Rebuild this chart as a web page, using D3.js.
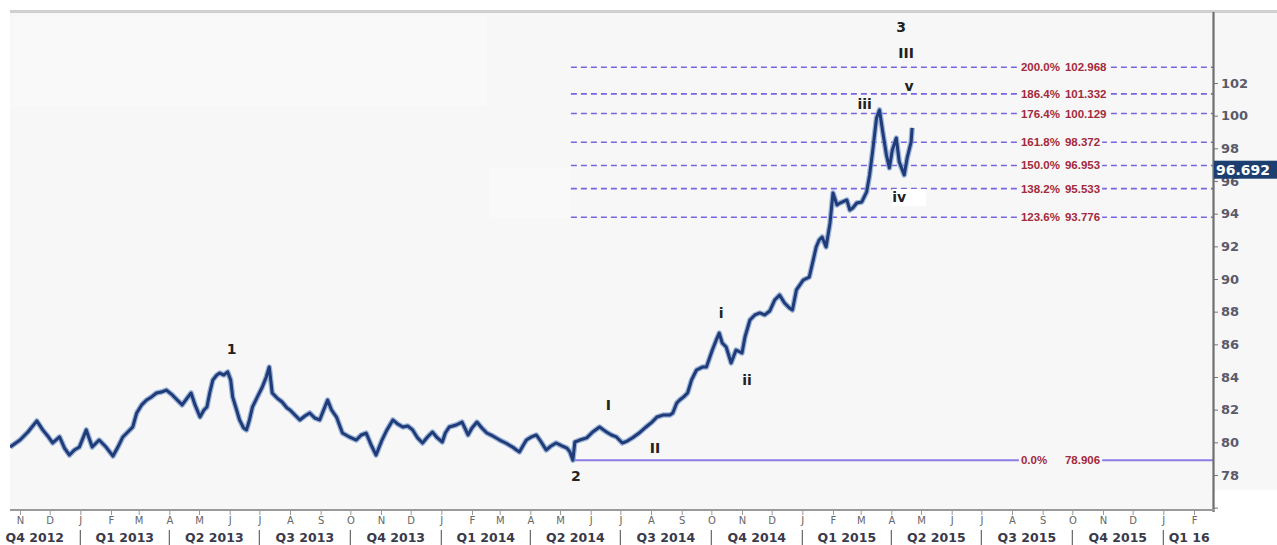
<!DOCTYPE html>
<html><head><meta charset="utf-8">
<script src="https://cdn.jsdelivr.net/npm/d3@7/dist/d3.min.js"></script>
<style>
html,body{margin:0;padding:0;background:#fff;}
svg{display:block;}
</style></head>
<body>
<svg id="chart" width="1277" height="545"></svg>
<script>
// ---------- DATA ----------
const priceDates = ["2012-10-22","2012-11-01","2012-11-09","2012-11-18","2012-11-24","2012-11-29","2012-12-04","2012-12-11","2012-12-16","2012-12-21","2012-12-26","2012-12-31",
"2013-01-07","2013-01-13","2013-01-20","2013-01-27","2013-02-03","2013-02-08","2013-02-13","2013-02-18","2013-02-23","2013-02-27","2013-03-04","2013-03-09","2013-03-14","2013-03-19","2013-03-24","2013-03-29",
"2013-04-04","2013-04-09","2013-04-14","2013-04-19","2013-04-23","2013-04-27","2013-05-02","2013-05-06","2013-05-09","2013-05-12","2013-05-15","2013-05-19","2013-05-22","2013-05-26","2013-05-30",
"2013-06-02","2013-06-04","2013-06-08","2013-06-11","2013-06-15","2013-06-18","2013-06-21","2013-06-24","2013-06-29","2013-07-04","2013-07-08","2013-07-11","2013-07-14","2013-07-19","2013-07-24","2013-07-29",
"2013-08-01","2013-08-06","2013-08-11","2013-08-16","2013-08-21","2013-08-26","2013-08-31","2013-09-04","2013-09-08","2013-09-12","2013-09-17","2013-09-20","2013-09-23","2013-09-30",
"2013-10-07","2013-10-12","2013-10-17","2013-10-22","2013-10-27","2013-11-02","2013-11-07","2013-11-13","2013-11-18","2013-11-23","2013-11-28","2013-12-03","2013-12-08","2013-12-13","2013-12-18","2013-12-23","2013-12-28",
"2014-01-02","2014-01-05","2014-01-09","2014-01-16","2014-01-22","2014-01-28","2014-02-01","2014-02-06","2014-02-11","2014-02-16","2014-02-22","2014-03-01","2014-03-07","2014-03-14","2014-03-18","2014-03-21","2014-03-25","2014-03-28",
"2014-04-02","2014-04-07","2014-04-12","2014-04-17","2014-04-22","2014-04-27","2014-05-03","2014-05-08","2014-05-11","2014-05-14","2014-05-16","2014-05-21","2014-05-28",
"2014-06-03","2014-06-10","2014-06-14","2014-06-17","2014-06-22","2014-06-27","2014-07-03","2014-07-08","2014-07-13","2014-07-20","2014-07-27","2014-08-02","2014-08-07","2014-08-13","2014-08-20","2014-08-23","2014-08-27","2014-08-30",
"2014-09-03","2014-09-07","2014-09-11","2014-09-16","2014-09-22","2014-09-26","2014-10-02","2014-10-06","2014-10-09","2014-10-12","2014-10-16","2014-10-21","2014-10-26",
"2014-11-01","2014-11-04","2014-11-09","2014-11-14","2014-11-19","2014-11-24","2014-11-29","2014-12-04","2014-12-09","2014-12-14","2014-12-19","2014-12-22","2014-12-26",
"2015-01-02","2015-01-08","2015-01-12","2015-01-15","2015-01-18","2015-01-21","2015-01-25","2015-01-29","2015-02-01","2015-02-05","2015-02-08","2015-02-15","2015-02-18","2015-02-21","2015-02-25",
"2015-03-02","2015-03-07","2015-03-10","2015-03-13","2015-03-17","2015-03-20","2015-03-23","2015-03-27","2015-03-30","2015-04-02","2015-04-06","2015-04-09","2015-04-14","2015-04-17","2015-04-21","2015-04-22"];
const priceValues = [79.71,80.14,80.63,81.31,80.76,80.39,79.96,80.33,79.65,79.22,79.53,79.71,
80.76,79.71,80.14,79.71,79.16,79.71,80.33,80.63,80.94,81.80,82.29,82.59,82.78,83.02,83.08,83.20,
82.90,82.59,82.29,82.71,83.02,82.29,81.55,81.98,82.16,83.08,83.82,84.12,84.24,84.12,84.31,
83.82,82.78,81.98,81.37,80.88,80.76,81.37,82.16,82.78,83.39,84.00,84.61,83.02,82.71,82.47,82.10,
81.98,81.67,81.37,81.61,81.80,81.49,81.37,81.98,82.59,81.98,81.55,81.06,80.57,80.33,
80.14,80.45,80.57,79.84,79.22,80.14,80.76,81.37,81.12,80.94,81.00,80.76,80.27,79.96,80.33,80.63,80.27,
80.02,80.57,80.94,81.06,81.24,80.45,80.88,81.24,80.88,80.57,80.39,80.14,79.96,79.71,79.53,79.41,79.84,80.14,
80.33,80.45,80.02,79.53,79.78,79.96,79.78,79.65,79.41,78.91,80.02,80.14,80.27,
80.63,80.94,80.76,80.63,80.45,80.33,79.96,80.08,80.27,80.57,80.94,81.24,81.55,81.67,81.67,81.80,82.41,82.59,
82.78,83.02,83.82,84.43,84.61,84.61,85.65,86.27,86.69,86.08,85.84,84.86,85.65,
85.47,86.45,87.49,87.80,87.92,87.80,88.04,88.71,89.02,88.53,88.22,88.10,89.33,
89.94,90.12,91.16,91.96,92.39,92.57,91.96,93.43,95.27,94.53,94.65,94.84,94.22,94.35,94.65,
94.71,95.33,96.37,97.78,99.86,100.35,99.12,97.59,96.80,97.90,98.63,97.16,96.37,97.41,98.39,99.25];

const fibPercents = ["200.0%","186.4%","176.4%","161.8%","150.0%","138.2%","123.6%","0.0%"];
const fibValues   = [102.968,101.332,100.129,98.372,96.953,95.533,93.776,78.906];
const fibStartDate = "2014-05-12";
const fibBaseStartDate = "2014-05-14";

const waveLabels = ["1","2","3","III","v","iii","iv","I","II","i","ii"];
const waveDates  = ["2013-06-03","2014-05-17","2015-04-11","2015-04-16","2015-04-19","2015-03-05","2015-04-09","2014-06-19","2014-08-05","2014-10-11","2014-11-06"];
const waveValues = [85.71,77.94,105.43,103.84,101.8,100.71,95.02,82.29,79.65,87.92,83.82];

const lastPrice = 96.692;
const yTicks = [76,78,80,82,84,86,88,90,92,94,96,98,100,102];
const quarterLabels = ["Q4 2012","Q1 2013","Q2 2013","Q3 2013","Q4 2013","Q1 2014","Q2 2014","Q3 2014","Q4 2014","Q1 2015","Q2 2015","Q3 2015","Q4 2015","Q1 16"];
const quarterStarts = ["2012-10-01","2013-01-01","2013-04-01","2013-07-01","2013-10-01","2014-01-01","2014-04-01","2014-07-01","2014-10-01","2015-01-01","2015-04-01","2015-07-01","2015-10-01","2016-01-01"];

// ---------- LAYOUT ----------
const parse = d3.timeParse("%Y-%m-%d");
const plotL = 10, plotR = 1213, plotT = 12, plotB = 510;
const svg = d3.select("#chart");

const x = d3.scaleTime().domain([parse("2012-11-01"), parse("2016-02-01")]).range([20, 1194]);
const y = d3.scaleLinear().domain([75.857, 106.347]).range([plotB, plotT]);

// backgrounds
svg.append("rect").attr("x",0).attr("y",0).attr("width",1277).attr("height",545).attr("fill","#ffffff");
svg.append("rect").attr("x",plotL).attr("y",plotT).attr("width",1277-plotL).attr("height",plotB-plotT).attr("fill","#f7f7f7");
svg.append("rect").attr("x",plotR+2).attr("y",490).attr("width",70).attr("height",60).attr("fill","#ffffff");
svg.append("rect").attr("x",12).attr("y",16).attr("width",475).attr("height",90).attr("fill","#f9f9f9");
svg.append("rect").attr("x",490).attr("y",168).attr("width",80).attr("height",50).attr("fill","#f9f9f9");
// top bar
svg.append("rect").attr("x",plotL).attr("y",10).attr("width",1277-plotL).attr("height",3).attr("fill","#d0d0d0");

svg.append("defs").append("clipPath").attr("id","clip")
  .append("rect").attr("x",plotL).attr("y",plotT).attr("width",plotR-plotL).attr("height",plotB-plotT);

const g = svg.append("g").attr("clip-path","url(#clip)");

// fib lines
const fib = fibPercents.map((p,i)=>({p, v:fibValues[i]}));
g.selectAll("line.fib").data(fib).join("line")
  .attr("x1", d => x(parse(d.p==="0.0%" ? fibBaseStartDate : fibStartDate)))
  .attr("x2", plotR)
  .attr("y1", d => y(d.v)).attr("y2", d => y(d.v))
  .attr("stroke", d => d.p==="0.0%" ? "#8b7ee6" : "#7766dd")
  .attr("stroke-width", d => d.p==="0.0%" ? 2 : 1.6)
  .attr("stroke-dasharray", d => d.p==="0.0%" ? null : "6,4");

// fib labels
const labelX = x(parse("2015-08-10"));
fib.forEach(d => {
  const lg = g.append("g");
  const bg = lg.append("rect").attr("fill","#f7f7f7");
  lg.append("text").attr("x",labelX).attr("y",y(d.v)).attr("dy","0.35em")
    .attr("font-family","Liberation Sans, Arial, sans-serif").attr("font-weight","bold").attr("font-size",11.5)
    .attr("fill","#a22a3c").text(d.p);
  const t2 = lg.append("text").attr("x",labelX+44).attr("y",y(d.v)).attr("dy","0.35em")
    .attr("font-family","Liberation Sans, Arial, sans-serif").attr("font-weight","bold").attr("font-size",11.5)
    .attr("fill","#a22a3c").text(d.v.toFixed(3));
  const b2 = t2.node().getBBox();
  bg.attr("x",labelX-2).attr("y",y(d.v)-6).attr("width",b2.x+b2.width-labelX+4).attr("height",12);
});

// price line
const pts = priceDates.map((d,i)=>({d:parse(d), v:priceValues[i]}));
const line = d3.line().x(d=>x(d.d)).y(d=>y(d.v));
g.append("path").datum(pts).attr("d",line).attr("fill","none")
  .attr("stroke","#86a3cf").attr("stroke-width",5.5).attr("stroke-linejoin","round").attr("opacity",0.8);
g.append("path").datum(pts).attr("d",line).attr("fill","none")
  .attr("stroke","#1f3b78").attr("stroke-width",3).attr("stroke-linejoin","round");

// wave labels
waveLabels.forEach((t,i)=>{
  const cx = x(parse(waveDates[i])), cy = y(waveValues[i]);
  if (t==="iv") {
    svg.append("rect").attr("x",cx-7).attr("y",cy-8).attr("width",34).attr("height",17).attr("fill","#ffffff");
  }
  svg.append("text").attr("x",cx).attr("y",cy).attr("dy","0.36em").attr("text-anchor","middle")
    .attr("font-family","DejaVu Sans, Verdana, sans-serif").attr("font-weight","bold").attr("font-size",14)
    .attr("fill","#222").text(t);
});

// right axis
const ya = svg.append("g").attr("transform",`translate(${plotR},0)`)
  .call(d3.axisRight(y).tickValues(yTicks).tickSize(5).tickPadding(3).tickFormat(d => d===76 ? "" : d));
ya.select(".domain").remove();
ya.selectAll(".tick line").attr("stroke","#777");
ya.selectAll(".tick text").attr("font-family","DejaVu Sans, Verdana, sans-serif").attr("font-weight","bold")
  .attr("font-size",13).attr("fill","#5a5a6a");
svg.append("line").attr("x1",plotR+0.5).attr("x2",plotR+0.5).attr("y1",plotT).attr("y2",plotB+2)
  .attr("stroke","#6e6e6e").attr("stroke-width",2.2);

// bottom axis
svg.append("line").attr("x1",plotL).attr("x2",plotR+1).attr("y1",plotB).attr("y2",plotB)
  .attr("stroke","#9a9a9a").attr("stroke-width",2.2);
const months = d3.timeMonth.range(parse("2012-11-01"), parse("2016-02-02"));
const xa = svg.append("g").attr("transform",`translate(0,${plotB+1})`)
  .call(d3.axisBottom(x).tickValues(months).tickSize(4).tickPadding(2).tickFormat(d => d3.timeFormat("%b")(d)[0]));
xa.select(".domain").remove();
xa.selectAll(".tick line").attr("stroke","#999");
xa.selectAll(".tick text").attr("font-family","DejaVu Sans, Verdana, sans-serif").attr("font-size",10).attr("fill","#666");

// quarter labels
const qg = svg.append("g");
quarterStarts.forEach((s,i)=>{
  const xs = x(parse(s));
  const xe = Math.min(x(d3.timeMonth.offset(parse(s),3)), 1215);
  const cx = (xs+xe)/2;
  qg.append("text").attr("x",cx).attr("y",542).attr("text-anchor","middle")
    .attr("font-family","DejaVu Sans, Verdana, sans-serif").attr("font-weight","bold").attr("font-size",12.5)
    .attr("fill","#3a3a4a").text(quarterLabels[i]);
  if (i>0) qg.append("line").attr("x1",xs).attr("x2",xs).attr("y1",530).attr("y2",545)
    .attr("stroke","#666").attr("stroke-width",1.2);
});

// last price tag
const tg = svg.append("g");
tg.append("rect").attr("x",plotR+1).attr("y",y(lastPrice)-9).attr("width",70).attr("height",18).attr("fill","#1d3f6f");
tg.append("text").attr("x",plotR+3).attr("y",y(lastPrice)).attr("dy","0.36em")
  .attr("font-family","DejaVu Sans, Verdana, sans-serif").attr("font-weight","bold").attr("font-size",14)
  .attr("fill","#ffffff").text(lastPrice.toFixed(3));
</script>
</body></html>
